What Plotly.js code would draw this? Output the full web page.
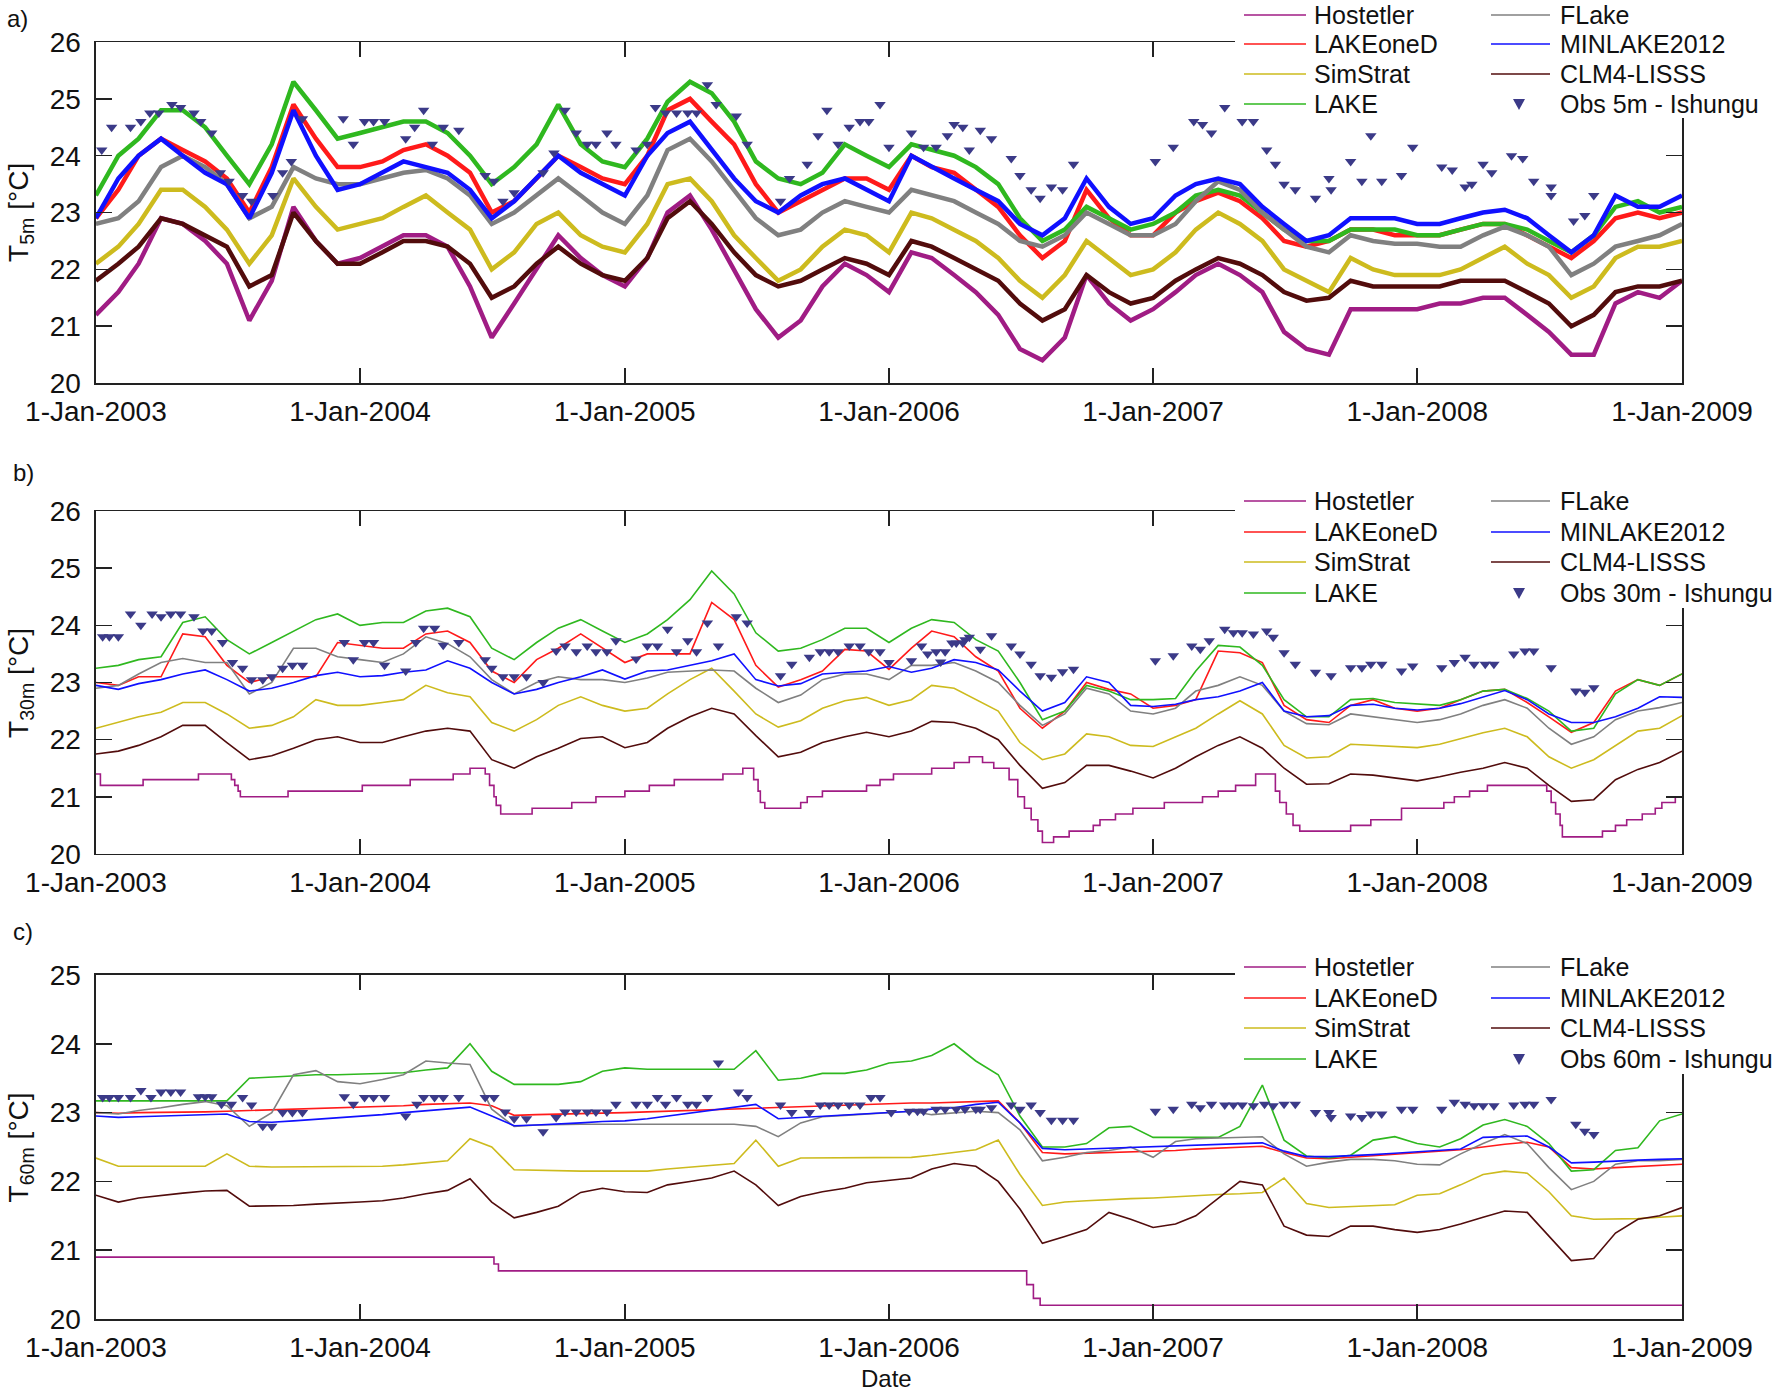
<!DOCTYPE html>
<html>
<head>
<meta charset="utf-8">
<script src="https://cdn.plot.ly/plotly-3.0.1.min.js"></script>
<style>
  html, body { margin: 0; padding: 0; background: #fff; }
  #chart { width: 1773px; height: 1397px; }
</style>
</head>
<body>
<div id="chart"></div>
<script>
// Lake Kivu temperatures at 5 m, 30 m and 60 m, models vs observations (Ishungu)
// Model series are sampled on the 1st of every month, Jan-2003 .. Jan-2009 (73 values)
// Step series and observations use "months since 1-Jan-2003"

const modelNames = ['Hostetler', 'LAKEoneD', 'SimStrat', 'LAKE', 'FLake', 'MINLAKE2012', 'CLM4-LISSS'];
const modelColors = ['#a01c84', '#ff1a1a', '#cdbb1e', '#2fb81f', '#808080', '#1010ff', '#520c0c'];
const obsColor = '#3b3a88';

// ---- a) 5 m ----
const hostetler5m = [21.2,21.6,22.1,22.9,22.8,22.5,22.1,21.1,21.8,23.1,22.5,22.1,22.2,22.4,22.6,22.6,22.4,21.7,20.8,21.4,22.0,22.6,22.2,21.9,21.7,22.2,23.0,23.3,22.7,22.0,21.3,20.8,21.1,21.7,22.1,21.9,21.6,22.3,22.2,21.9,21.6,21.2,20.6,20.4,20.8,21.9,21.4,21.1,21.3,21.6,21.9,22.1,21.9,21.6,20.9,20.6,20.5,21.3,21.3,21.3,21.3,21.4,21.4,21.5,21.5,21.2,20.9,20.5,20.5,21.4,21.6,21.5,21.8];
const lakeOneD5m = [22.9,23.4,24.0,24.3,24.1,23.9,23.6,23.0,23.8,24.9,24.3,23.8,23.8,23.9,24.1,24.2,24.0,23.7,23.0,23.2,23.6,24.0,23.8,23.6,23.5,24.0,24.8,25.0,24.6,24.2,23.5,23.0,23.2,23.4,23.6,23.6,23.4,24.0,23.8,23.7,23.4,23.1,22.6,22.2,22.5,23.4,22.9,22.6,22.6,23.0,23.2,23.35,23.2,22.9,22.5,22.4,22.5,22.7,22.7,22.6,22.6,22.6,22.7,22.8,22.8,22.6,22.4,22.2,22.5,22.9,23.0,22.9,23.0];
const simStrat5m = [22.1,22.4,22.8,23.4,23.4,23.1,22.7,22.1,22.6,23.6,23.1,22.7,22.8,22.9,23.1,23.3,23.0,22.7,22.0,22.3,22.8,23.0,22.6,22.4,22.3,22.8,23.5,23.6,23.2,22.6,22.2,21.8,22.0,22.4,22.7,22.6,22.3,23.0,22.9,22.7,22.5,22.2,21.8,21.5,21.9,22.5,22.2,21.9,22.0,22.3,22.7,23.0,22.8,22.5,22.0,21.8,21.6,22.2,22.0,21.9,21.9,21.9,22.0,22.2,22.4,22.1,21.9,21.5,21.7,22.2,22.4,22.4,22.5];
const lake5m = [23.3,24.0,24.3,24.8,24.8,24.5,24.0,23.5,24.2,25.3,24.8,24.3,24.4,24.5,24.6,24.6,24.4,24.0,23.5,23.8,24.2,24.9,24.2,23.9,23.8,24.3,24.95,25.3,25.1,24.6,23.9,23.6,23.5,23.7,24.2,24.0,23.8,24.2,24.1,24.0,23.8,23.5,22.9,22.5,22.7,23.1,22.9,22.7,22.8,23.0,23.3,23.4,23.3,23.0,22.7,22.5,22.5,22.7,22.7,22.7,22.6,22.6,22.7,22.8,22.8,22.7,22.5,22.3,22.6,23.1,23.2,23.0,23.1];
const flake5m = [22.8,22.9,23.2,23.8,24.0,23.8,23.5,22.9,23.1,23.8,23.6,23.5,23.5,23.6,23.7,23.75,23.6,23.3,22.8,23.0,23.3,23.6,23.3,23.0,22.8,23.3,24.1,24.3,23.9,23.4,22.9,22.6,22.7,23.0,23.2,23.1,23.0,23.4,23.3,23.2,23.0,22.8,22.5,22.4,22.6,23.0,22.8,22.6,22.6,22.8,23.2,23.55,23.4,23.0,22.7,22.4,22.3,22.6,22.5,22.45,22.45,22.4,22.4,22.6,22.75,22.6,22.4,21.9,22.1,22.4,22.5,22.6,22.8];
const minlake5m = [22.9,23.6,24.0,24.3,24.0,23.7,23.5,22.9,23.7,24.8,24.0,23.4,23.5,23.7,23.9,23.8,23.7,23.4,22.9,23.2,23.6,24.0,23.7,23.5,23.3,24.0,24.4,24.6,24.1,23.6,23.2,23.0,23.3,23.5,23.6,23.4,23.2,24.0,23.8,23.6,23.4,23.2,22.8,22.6,22.9,23.6,23.1,22.8,22.9,23.3,23.5,23.6,23.5,23.1,22.8,22.5,22.6,22.9,22.9,22.9,22.8,22.8,22.9,23.0,23.05,22.9,22.6,22.3,22.6,23.3,23.1,23.1,23.3];
const clm5m = [21.8,22.1,22.4,22.9,22.8,22.6,22.4,21.7,21.9,23.0,22.5,22.1,22.1,22.3,22.5,22.5,22.4,22.1,21.5,21.7,22.1,22.4,22.1,21.9,21.8,22.2,22.9,23.2,22.8,22.3,21.9,21.7,21.8,22.0,22.2,22.1,21.9,22.5,22.4,22.2,22.0,21.8,21.4,21.1,21.3,21.9,21.6,21.4,21.5,21.8,22.0,22.2,22.1,21.9,21.6,21.45,21.5,21.8,21.7,21.7,21.7,21.7,21.8,21.8,21.8,21.6,21.4,21.0,21.2,21.6,21.7,21.7,21.8];
const obs5mMonth = [0.26,0.7,1.6,2.1,2.5,2.9,3.5,3.9,4.5,4.8,5.3,5.7,6.1,6.7,7.1,8.05,8.5,8.9,9.4,11.25,11.7,12.2,12.6,13.1,14.1,14.5,14.9,15.3,15.8,16.5,17.7,18.1,18.5,19.0,20.3,20.8,
  21.3,21.8,22.3,22.7,23.2,23.6,24.5,25.0,25.4,25.9,26.4,26.9,27.3,27.8,28.2,29.1,29.6,31.1,31.5,32.3,32.8,33.2,33.7,34.2,34.7,35.1,35.6,36.0,37.0,37.6,38.2,38.7,39.0,39.4,39.7,40.2,40.7,41.6,42.0,42.5,42.9,43.4,43.9,44.4,
  48.1,48.9,49.9,50.3,50.7,51.3,52.1,52.6,53.2,53.6,54.0,54.5,55.4,56.0,56.1,57.0,57.5,57.9,58.4,59.3,59.8,61.1,61.6,62.2,62.5,63.0,63.4,64.3,64.8,65.3,66.1,66.1,67.1,67.6,68.0];
const obs5mTemp = [24.1,24.5,24.5,24.6,24.75,24.75,24.9,24.85,24.75,24.6,24.4,23.7,23.55,23.3,23.2,23.3,23.7,23.9,24.65,24.65,24.2,24.6,24.6,24.6,24.3,24.5,24.8,24.2,24.5,24.45,23.65,23.55,23.2,23.35,23.7,24.05,
  24.8,24.4,24.2,24.2,24.4,24.2,24.1,24.2,24.85,24.75,24.75,24.75,24.75,25.25,24.9,24.7,24.2,23.2,23.6,23.85,24.35,24.8,24.2,24.5,24.6,24.6,24.9,24.15,24.4,24.15,24.15,24.35,24.55,24.5,24.1,24.45,24.3,23.95,23.65,23.4,23.25,23.45,23.4,23.85,
  23.9,24.15,24.6,24.55,24.4,24.85,24.6,24.6,24.1,23.85,23.5,23.4,23.25,23.6,23.4,23.9,23.55,24.35,23.55,23.65,24.15,23.8,23.75,23.45,23.5,23.85,23.7,24.0,23.95,23.55,23.45,23.3,22.85,22.95,23.3];

// ---- b) 30 m ----
const hostetler30mMonth = [0,0.2,2.2,4.7,6.2,6.35,6.5,6.6,8.75,12.1,14.3,16.25,17.0,17.7,17.9,18.1,18.2,18.4,19.8,21.6,22.7,24.0,25.1,26.3,28.5,29.4,29.9,30.1,30.2,30.4,32.0,32.3,33.0,35.0,35.6,36.2,38.0,39.0,39.7,40.3,40.8,41.5,41.9,42.2,42.5,42.8,43.0,43.5,44.2,45.3,45.6,46.3,47.1,48.5,50.3,51.0,51.8,52.7,53.6,53.8,54.1,54.4,54.7,57.0,57.9,59.3,61.2,61.7,62.4,63.2,65.9,66.1,66.3,66.5,66.6,68.4,69.0,69.5,70.2,70.8,71.1,71.7,72.0];
const hostetler30mTemp = [21.4,21.2,21.3,21.4,21.3,21.2,21.1,21.0,21.1,21.2,21.3,21.4,21.5,21.4,21.2,21.0,20.85,20.7,20.8,20.9,21.0,21.1,21.2,21.3,21.4,21.5,21.3,21.1,20.9,20.8,20.9,21.0,21.1,21.2,21.3,21.4,21.5,21.6,21.7,21.6,21.5,21.3,21.0,20.8,20.6,20.4,20.2,20.3,20.4,20.5,20.6,20.7,20.8,20.9,21.0,21.1,21.2,21.4,21.1,20.9,20.7,20.5,20.4,20.5,20.6,20.8,20.9,21.0,21.1,21.2,21.1,20.9,20.7,20.5,20.3,20.4,20.5,20.6,20.7,20.8,20.9,21.0,21.0];
const lakeOneD30m = [23.0,22.95,23.1,23.1,23.85,23.8,23.3,23.0,23.1,23.1,23.1,23.7,23.65,23.6,23.6,23.85,23.9,23.7,23.2,23.0,23.4,23.6,23.85,23.6,23.35,23.5,23.5,23.5,24.4,24.1,23.3,22.92,23.05,23.2,23.58,23.55,23.23,23.6,23.9,23.8,23.45,23.2,22.55,22.2,22.5,23.0,22.88,22.8,22.55,22.6,22.7,23.55,23.52,23.35,22.6,22.35,22.3,22.6,22.7,22.55,22.5,22.55,22.7,22.85,22.88,22.65,22.4,22.13,22.3,22.85,23.05,22.95,23.15];
const simStrat30m = [22.2,22.3,22.4,22.48,22.65,22.65,22.45,22.2,22.25,22.4,22.7,22.6,22.6,22.65,22.7,22.95,22.82,22.75,22.3,22.15,22.35,22.6,22.75,22.6,22.5,22.55,22.8,23.05,23.25,22.85,22.45,22.22,22.33,22.55,22.68,22.74,22.6,22.7,22.95,22.9,22.7,22.5,21.95,21.65,21.75,22.1,22.05,21.9,21.88,22.05,22.2,22.45,22.68,22.45,21.9,21.68,21.7,21.92,21.9,21.88,21.86,21.92,22.02,22.12,22.2,22.05,21.7,21.5,21.65,21.9,22.15,22.2,22.42];
const lake30m = [23.25,23.3,23.4,23.45,24.05,24.15,23.75,23.5,23.7,23.9,24.1,24.2,24.0,24.05,24.05,24.25,24.3,24.15,23.6,23.4,23.7,23.95,24.1,23.9,23.7,23.85,24.1,24.45,24.95,24.55,23.87,23.55,23.6,23.75,23.95,23.95,23.7,23.95,24.1,24.05,23.75,23.55,23.0,22.35,22.5,22.95,22.85,22.7,22.7,22.72,23.2,23.65,23.62,23.3,22.7,22.4,22.4,22.7,22.72,22.65,22.62,22.6,22.7,22.85,22.88,22.72,22.5,22.15,22.2,22.8,23.05,22.95,23.15];
const flake30m = [22.9,22.95,23.15,23.35,23.42,23.35,23.35,22.8,23.0,23.6,23.6,23.45,23.4,23.35,23.5,23.8,23.68,23.45,23.05,22.8,23.0,23.1,23.05,23.05,23.0,23.08,23.18,23.2,23.22,23.2,22.9,22.65,22.78,23.05,23.15,23.15,23.05,23.3,23.3,23.35,23.2,23.0,22.6,22.25,22.45,22.9,22.8,22.5,22.45,22.55,22.85,22.95,23.1,22.95,22.5,22.28,22.26,22.45,22.4,22.35,22.3,22.35,22.45,22.6,22.7,22.55,22.2,21.92,22.05,22.35,22.5,22.56,22.65];
const minlake30m = [22.95,22.88,22.98,23.05,23.15,23.22,23.05,22.85,22.9,23.0,23.12,23.18,23.1,23.12,23.18,23.22,23.38,23.25,23.0,22.8,22.88,23.0,23.1,23.22,23.06,23.2,23.22,23.3,23.38,23.5,23.05,22.94,22.98,23.15,23.17,23.2,23.28,23.18,23.25,23.4,23.35,23.22,22.85,22.5,22.65,23.1,23.0,22.6,22.58,22.62,22.7,22.75,22.85,23.0,22.5,22.4,22.42,22.6,22.62,22.55,22.52,22.55,22.63,22.75,22.86,22.7,22.45,22.3,22.3,22.4,22.55,22.75,22.74];
const clm30m = [21.75,21.8,21.9,22.05,22.25,22.25,21.95,21.65,21.72,21.85,22.0,22.05,21.95,21.95,22.05,22.15,22.2,22.15,21.65,21.5,21.7,21.85,22.02,22.05,21.86,21.95,22.2,22.4,22.55,22.45,22.07,21.7,21.78,21.95,22.05,22.13,22.05,22.15,22.32,22.3,22.2,22.0,21.55,21.15,21.25,21.55,21.55,21.45,21.33,21.5,21.7,21.9,22.05,21.85,21.5,21.22,21.23,21.4,21.38,21.33,21.28,21.35,21.43,21.5,21.6,21.5,21.2,20.92,20.95,21.3,21.48,21.6,21.8];
const obs30mMonth = [0.3,0.6,1.0,1.6,2.1,2.6,3.0,3.45,3.9,4.5,4.9,5.3,5.8,6.25,6.7,7.1,7.6,8.0,8.5,8.95,9.4,11.3,11.7,12.2,12.6,13.1,14.1,14.55,14.9,15.4,15.8,16.5,17.7,18.0,18.5,19.0,19.55,20.3,20.9,
  21.3,21.8,22.3,22.7,23.2,23.6,24.5,25.0,25.5,26.0,26.4,26.9,27.3,27.8,28.3,29.1,29.6,31.1,31.6,32.4,32.9,33.3,33.7,34.2,34.7,35.1,35.6,36.0,37.0,37.5,37.8,38.2,38.4,38.6,38.9,39.1,39.4,39.5,39.7,40.2,40.7,41.6,42.0,42.5,42.9,43.4,43.9,44.4,
  48.1,48.9,49.8,50.2,50.6,51.3,51.7,52.1,52.6,53.2,53.5,54.0,54.5,55.4,56.1,57.0,57.5,57.9,58.4,59.3,59.8,61.1,61.7,62.2,62.6,63.1,63.5,64.4,64.9,65.3,66.1,67.2,67.6,68.0];
const obs30mTemp = [23.8,23.8,23.8,24.2,24.0,24.2,24.15,24.2,24.2,24.15,23.9,23.9,23.7,23.35,23.25,23.05,23.05,23.1,23.25,23.3,23.3,23.7,23.4,23.7,23.7,23.3,23.2,23.7,23.95,23.95,23.65,23.7,23.4,23.25,23.1,23.1,23.1,23.0,23.55,
  23.64,23.54,23.64,23.54,23.54,23.73,23.41,23.64,23.64,23.93,23.54,23.73,23.54,24.04,23.64,24.15,24.04,23.12,23.32,23.44,23.54,23.54,23.54,23.64,23.64,23.54,23.54,23.35,23.38,23.64,23.5,23.54,23.36,23.54,23.69,23.69,23.69,23.75,23.79,23.58,23.82,23.64,23.5,23.32,23.12,23.09,23.19,23.23,
  23.38,23.47,23.64,23.58,23.73,23.93,23.87,23.87,23.85,23.9,23.79,23.52,23.32,23.18,23.12,23.26,23.26,23.32,23.32,23.2,23.29,23.26,23.35,23.44,23.32,23.32,23.32,23.5,23.55,23.55,23.26,22.85,22.83,22.91];

// ---- c) 60 m ----
const hostetler60mMonth = [0,18.1,18.3,42.3,42.6,42.9,72.0];
const hostetler60mTemp = [20.9,20.8,20.7,20.5,20.3,20.2,20.2];
const lakeOneD60m = [23.0,22.99,23.0,23.0,23.01,23.01,23.02,23.03,23.04,23.05,23.06,23.07,23.08,23.09,23.1,23.12,23.13,23.14,23.1,22.96,22.97,22.98,22.99,23.0,23.0,23.01,23.02,23.04,23.05,23.06,23.07,23.08,23.09,23.1,23.11,23.12,23.13,23.14,23.14,23.15,23.16,23.17,22.85,22.42,22.4,22.41,22.42,22.42,22.44,22.45,22.47,22.48,22.5,22.51,22.42,22.34,22.33,22.35,22.37,22.4,22.42,22.44,22.46,22.5,22.54,22.57,22.5,22.2,22.18,22.2,22.22,22.24,22.25];
const simStrat60m = [22.34,22.22,22.22,22.22,22.22,22.22,22.4,22.22,22.21,22.21,22.21,22.21,22.22,22.22,22.24,22.27,22.3,22.62,22.5,22.17,22.16,22.15,22.15,22.15,22.15,22.15,22.18,22.21,22.23,22.26,22.6,22.22,22.34,22.34,22.34,22.34,22.34,22.35,22.38,22.42,22.46,22.6,22.1,21.65,21.7,21.72,21.74,21.75,21.76,21.78,21.8,21.81,21.82,21.84,22.05,21.68,21.62,21.63,21.64,21.66,21.8,21.82,21.95,22.1,22.15,22.12,21.85,21.5,21.45,21.45,21.46,21.48,21.5];
const lake60m = [23.17,23.17,23.17,23.17,23.17,23.17,23.17,23.5,23.52,23.54,23.55,23.55,23.56,23.56,23.58,23.62,23.65,24.0,23.6,23.41,23.41,23.41,23.45,23.6,23.65,23.63,23.63,23.63,23.63,23.63,23.9,23.47,23.5,23.57,23.57,23.62,23.72,23.75,23.83,24.0,23.75,23.55,22.95,22.5,22.5,22.55,22.78,22.8,22.64,22.64,22.64,22.64,22.8,23.4,22.6,22.37,22.34,22.38,22.6,22.65,22.55,22.5,22.62,22.82,22.9,22.8,22.55,22.15,22.17,22.45,22.49,22.88,22.98];
const flake60m = [23.0,22.98,23.03,23.07,23.12,23.16,23.1,22.8,23.0,23.55,23.61,23.45,23.42,23.48,23.55,23.75,23.72,23.7,23.05,22.8,22.82,22.83,22.83,22.83,22.83,22.83,22.83,22.83,22.83,22.83,22.8,22.65,22.85,22.94,22.96,22.98,23.0,23.02,22.97,22.99,23.02,23.0,22.75,22.3,22.35,22.42,22.45,22.5,22.35,22.58,22.62,22.63,22.64,22.65,22.4,22.22,22.28,22.32,22.32,22.3,22.25,22.24,22.4,22.55,22.68,22.55,22.2,21.88,22.0,22.25,22.3,22.3,22.32];
const minlake60m = [22.95,22.93,22.94,22.95,22.96,22.97,22.98,22.87,22.86,22.88,22.9,22.93,22.95,22.97,23.0,23.03,23.05,23.08,22.95,22.81,22.82,22.83,22.85,22.87,22.88,22.91,22.95,22.99,23.03,23.08,23.12,22.91,22.93,22.95,22.97,22.98,23.0,23.02,23.05,23.07,23.12,23.15,22.85,22.48,22.46,22.47,22.49,22.5,22.5,22.51,22.52,22.54,22.55,22.56,22.44,22.36,22.36,22.37,22.39,22.41,22.43,22.45,22.47,22.64,22.65,22.66,22.5,22.27,22.28,22.3,22.31,22.32,22.33];
const clm60m = [21.8,21.7,21.76,21.8,21.83,21.86,21.87,21.64,21.64,21.65,21.67,21.68,21.7,21.72,21.76,21.82,21.87,22.04,21.7,21.47,21.55,21.64,21.84,21.9,21.85,21.84,21.95,22.0,22.05,22.15,21.95,21.65,21.78,21.85,21.9,21.98,22.02,22.05,22.18,22.26,22.22,22.0,21.6,21.1,21.2,21.3,21.55,21.45,21.33,21.38,21.5,21.75,22.0,21.95,21.35,21.22,21.2,21.35,21.35,21.3,21.26,21.3,21.38,21.48,21.57,21.55,21.2,20.85,20.88,21.25,21.45,21.5,21.62];
const obs60mMonth = [0.3,0.6,1.0,1.6,2.1,2.55,3.0,3.45,3.9,4.7,5.0,5.3,5.75,6.2,6.7,7.1,7.6,8.0,8.5,8.95,9.4,11.3,11.7,12.2,12.6,13.1,14.1,14.6,14.9,15.4,15.8,16.5,17.7,18.1,18.6,19.0,19.55,20.3,20.9,
  21.3,21.8,22.3,22.7,23.2,23.6,24.5,25.0,25.5,25.9,26.4,26.9,27.3,27.8,28.3,29.2,29.6,31.1,31.6,32.4,32.9,33.3,33.7,34.2,34.7,35.2,35.6,36.1,36.9,37.3,37.6,38.2,38.6,39.1,39.5,40.0,40.2,40.7,41.6,42.0,42.5,42.9,43.4,43.9,44.4,
  48.1,48.9,49.8,50.2,50.7,51.3,51.7,52.1,52.6,53.1,53.5,54.0,54.5,55.4,56.0,56.1,57.0,57.5,57.9,58.4,59.3,59.8,61.1,61.7,62.2,62.6,63.0,63.5,64.4,64.9,65.3,66.1,67.2,67.6,68.0];
const obs60mTemp = [23.22,23.22,23.22,23.22,23.32,23.22,23.3,23.3,23.3,23.23,23.23,23.23,23.12,23.12,23.22,23.11,22.8,22.8,23.0,23.0,23.0,23.23,23.12,23.22,23.22,23.22,22.95,23.12,23.22,23.22,23.22,23.22,23.22,23.22,23.01,22.91,22.91,22.72,22.93,
  23.01,23.01,23.01,23.01,23.01,23.12,23.12,23.12,23.22,23.12,23.22,23.12,23.12,23.22,23.72,23.3,23.22,23.11,23.0,23.0,23.11,23.11,23.11,23.11,23.11,23.22,23.22,23.0,23.02,23.02,23.02,23.05,23.05,23.05,23.05,23.05,23.05,23.07,23.11,23.05,23.11,23.0,22.89,22.89,22.89,
  23.02,23.05,23.12,23.07,23.12,23.11,23.11,23.11,23.1,23.12,23.1,23.12,23.12,23.0,23.0,22.93,22.95,22.93,22.98,22.98,23.05,23.05,23.05,23.15,23.12,23.1,23.1,23.1,23.11,23.12,23.12,23.19,22.83,22.73,22.68];

// months since 1-Jan-2003 -> ISO date
function monthToDate(m) {
  const whole = Math.floor(m);
  const frac = m - whole;
  const y = 2003 + Math.floor(whole / 12);
  const mo = whole % 12;
  const t0 = Date.UTC(y, mo, 1);
  const t1 = Date.UTC(y, mo + 1, 1);
  return new Date(t0 + frac * (t1 - t0)).toISOString().slice(0, 19);
}
const monthDates = [];
for (let m = 0; m <= 72; m++) monthDates.push(monthToDate(m));

const W = 1773, H = 1397;
const FONT = 'Liberation Sans, Arial, sans-serif';

function panelTraces(p) {
  const traces = [];
  p.models.forEach((vals, i) => {
    const stepped = i === 0 && p.stepMonths != null;
    traces.push({
      type: 'scatter', mode: 'lines',
      name: modelNames[i],
      x: stepped ? p.stepMonths.map(monthToDate) : monthDates,
      y: vals,
      xaxis: p.xa, yaxis: p.ya,
      line: { color: modelColors[i], width: p.width, shape: stepped ? 'hv' : 'linear' },
      hoverinfo: 'skip'
    });
  });
  traces.push({
    type: 'scatter', mode: 'markers',
    name: p.obsName,
    x: p.obsMonth.map(monthToDate), y: p.obsTemp,
    xaxis: p.xa, yaxis: p.ya,
    marker: { symbol: 'triangle-down', size: 10, color: obsColor },
    hoverinfo: 'skip'
  });
  return traces;
}

const data = [
  ...panelTraces({
    models: [hostetler5m, lakeOneD5m, simStrat5m, lake5m, flake5m, minlake5m, clm5m],
    stepMonths: null, width: 4.5,
    obsMonth: obs5mMonth, obsTemp: obs5mTemp, obsName: 'Obs 5m - Ishungu',
    xa: 'x', ya: 'y'
  }),
  ...panelTraces({
    models: [hostetler30mTemp, lakeOneD30m, simStrat30m, lake30m, flake30m, minlake30m, clm30m],
    stepMonths: hostetler30mMonth, width: 1.6,
    obsMonth: obs30mMonth, obsTemp: obs30mTemp, obsName: 'Obs 30m - Ishungu',
    xa: 'x2', ya: 'y2'
  }),
  ...panelTraces({
    models: [hostetler60mTemp, lakeOneD60m, simStrat60m, lake60m, flake60m, minlake60m, clm60m],
    stepMonths: hostetler60mMonth, width: 1.6,
    obsMonth: obs60mMonth, obsTemp: obs60mTemp, obsName: 'Obs 60m - Ishungu',
    xa: 'x3', ya: 'y3'
  })
];

function xAxis(anchor) {
  return {
    anchor: anchor, domain: [0.0541, 0.9487],
    type: 'date', range: ['2003-01-01', '2009-01-01'],
    tick0: '2003-01-01', dtick: 'M12', tickformat: '%-d-%b-%Y',
    ticks: 'inside', ticklen: 15, tickwidth: 1.5, tickcolor: '#222',
    showline: true, linecolor: '#222', linewidth: 1.5, mirror: 'ticks',
    showgrid: false, zeroline: false, ticklabelstandoff: 3,
    tickfont: { family: FONT, size: 28, color: '#111' }
  };
}
function yAxis(anchor, domain, top) {
  return {
    anchor: anchor, domain: domain, range: [20, top], dtick: 1,
    ticks: 'inside', ticklen: 16, tickwidth: 1.5, tickcolor: '#222',
    showline: true, linecolor: '#222', linewidth: 1.5, mirror: 'ticks',
    showgrid: false, zeroline: false, ticklabelstandoff: 8,
    tickfont: { family: FONT, size: 28, color: '#111' }
  };
}

// hand-made two-column legend (pixel layout of the original figure)
const px = (x) => x / W;
const py = (y) => 1 - y / H;
const LEG = { boxLeft: 1235, line1: [1244, 1306], text1: 1312, line2: [1491, 1550], text2: 1558, mark: 1519 };
const shapes = [];
const annotations = [];
function addLegend(rows, boxTop, boxBottom, obsName) {
  shapes.push({ type: 'rect', xref: 'paper', yref: 'paper', layer: 'above',
    x0: px(LEG.boxLeft), x1: 1, y0: py(boxBottom), y1: py(boxTop),
    fillcolor: '#ffffff', line: { width: 0 } });
  const labels = [...modelNames, obsName];
  labels.forEach((label, k) => {
    const col = k < 4 ? 0 : 1;
    const yRow = rows[k % 4];
    const line = col === 0 ? LEG.line1 : LEG.line2;
    if (k < 7) {
      shapes.push({ type: 'line', xref: 'paper', yref: 'paper', layer: 'above',
        x0: px(line[0]), x1: px(line[1]), y0: py(yRow), y1: py(yRow),
        line: { color: modelColors[k], width: 1.6 } });
    } else {
      const cx = LEG.mark, cy = yRow;
      shapes.push({ type: 'path', xref: 'paper', yref: 'paper', layer: 'above',
        path: `M ${px(cx - 6)} ${py(cy - 5)} L ${px(cx + 6)} ${py(cy - 5)} L ${px(cx)} ${py(cy + 6)} Z`,
        fillcolor: obsColor, line: { width: 0 } });
    }
    annotations.push({ text: label, xref: 'paper', yref: 'paper',
      x: px(col === 0 ? LEG.text1 : LEG.text2), y: py(yRow),
      xanchor: 'left', yanchor: 'middle', showarrow: false,
      font: { family: FONT, size: 25, color: '#111' } });
  });
}
addLegend([15, 44, 74, 104], 0, 118, 'Obs 5m - Ishungu');
addLegend([501, 532, 562, 593], 478, 608, 'Obs 30m - Ishungu');
addLegend([967, 998, 1028, 1059], 944, 1074, 'Obs 60m - Ishungu');

const domA = [0.7258, 0.9699], domB = [0.3887, 0.6342], domC = [0.0558, 0.3021];
const annFont = { family: FONT, size: 24, color: '#111' };
const titleFont = { family: FONT, size: 28, color: '#111' };

annotations.push(
  { text: 'a)', x: 0.003, y: 0.998, xref: 'paper', yref: 'paper', xanchor: 'left', yanchor: 'top', showarrow: false, font: annFont },
  { text: 'b)', x: 0.006, y: 0.673, xref: 'paper', yref: 'paper', xanchor: 'left', yanchor: 'top', showarrow: false, font: annFont },
  { text: 'c)', x: 0.006, y: 0.344, xref: 'paper', yref: 'paper', xanchor: 'left', yanchor: 'top', showarrow: false, font: annFont },
  { text: 'Date', x: 0.5, y: 0.002, xref: 'paper', yref: 'paper', xanchor: 'center', yanchor: 'bottom', showarrow: false, font: annFont },
  { text: 'T<sub>5m</sub> [°C]', x: 0.0115, y: (domA[0] + domA[1]) / 2, xref: 'paper', yref: 'paper', xanchor: 'center', yanchor: 'middle', textangle: -90, showarrow: false, font: titleFont },
  { text: 'T<sub>30m</sub> [°C]', x: 0.0115, y: (domB[0] + domB[1]) / 2, xref: 'paper', yref: 'paper', xanchor: 'center', yanchor: 'middle', textangle: -90, showarrow: false, font: titleFont },
  { text: 'T<sub>60m</sub> [°C]', x: 0.0115, y: (domC[0] + domC[1]) / 2, xref: 'paper', yref: 'paper', xanchor: 'center', yanchor: 'middle', textangle: -90, showarrow: false, font: titleFont }
);

const layout = {
  width: W, height: H,
  margin: { l: 0, r: 0, t: 0, b: 0 },
  paper_bgcolor: '#fff', plot_bgcolor: '#fff',
  showlegend: false,
  xaxis: xAxis('y'), yaxis: yAxis('x', domA, 26),
  xaxis2: xAxis('y2'), yaxis2: yAxis('x2', domB, 26),
  xaxis3: xAxis('y3'), yaxis3: yAxis('x3', domC, 25),
  shapes: shapes,
  annotations: annotations
};

Plotly.newPlot('chart', data, layout, { displayModeBar: false, staticPlot: true });
</script>
</body>
</html>
